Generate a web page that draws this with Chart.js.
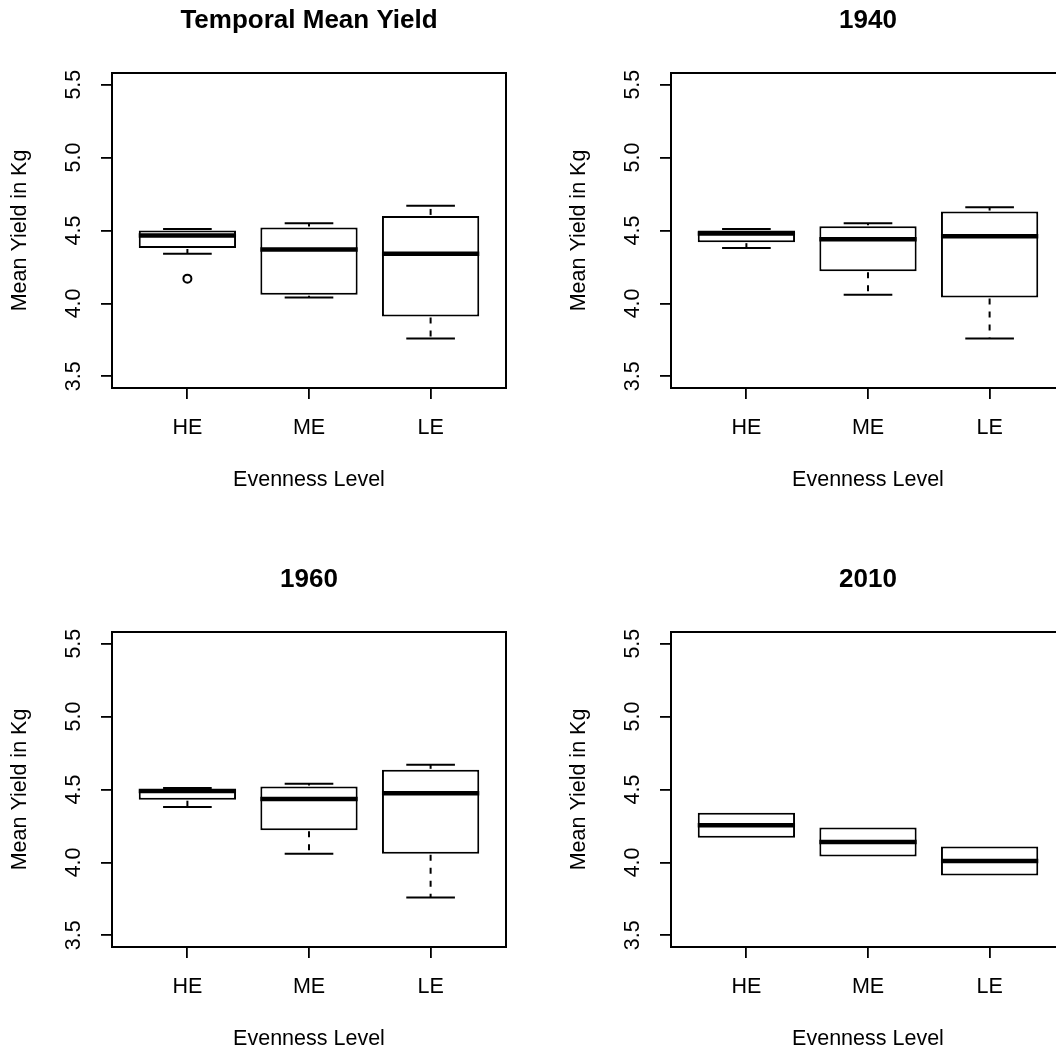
<!DOCTYPE html>
<html>
<head>
<meta charset="utf-8">
<title>Mean Yield by Evenness Level</title>
<script src="https://cdn.jsdelivr.net/npm/chart.js@4.4.0/dist/chart.umd.min.js"></script>
<style>
  html, body { margin: 0; padding: 0; background: #fff; }
  #page { position: relative; width: 1056px; height: 1054px; overflow: hidden; }
  #page canvas { position: absolute; }
</style>
</head>
<body>
<div id="page">
  <canvas id="panel0" width="528" height="559" style="left:0px;top:0px"></canvas>
  <canvas id="panel1" width="528" height="559" style="left:559px;top:0px"></canvas>
  <canvas id="panel2" width="528" height="559" style="left:0px;top:559px"></canvas>
  <canvas id="panel3" width="528" height="559" style="left:559px;top:559px"></canvas>
</div>
<script>
const groups = ['HE', 'ME', 'LE'];
const yTicks = [3.5, 4.0, 4.5, 5.0, 5.5];
const panelTitles = ['Temporal Mean Yield', '1940', '1960', '2010'];

// five-number summaries per evenness level (HE, ME, LE)
const temporalMin    = [4.34, 4.04, 3.76];
const temporalQ1     = [4.38, 4.06, 3.91];
const temporalMedian = [4.465, 4.37, 4.34];
const temporalQ3     = [4.50, 4.52, 4.60];
const temporalMax    = [4.51, 4.55, 4.67];
const temporalOut    = [[4.17], [], []];

const y1940Min    = [4.38, 4.06, 3.76];
const y1940Q1     = [4.42, 4.22, 4.04];
const y1940Median = [4.48, 4.44, 4.46];
const y1940Q3     = [4.50, 4.53, 4.63];
const y1940Max    = [4.51, 4.55, 4.66];

const y1960Min    = [4.38, 4.06, 3.76];
const y1960Q1     = [4.43, 4.22, 4.06];
const y1960Median = [4.49, 4.435, 4.475];
const y1960Q3     = [4.50, 4.52, 4.635];
const y1960Max    = [4.51, 4.54, 4.67];

const y2010Min    = [4.17, 4.04, 3.91];
const y2010Q1     = [4.17, 4.04, 3.91];
const y2010Median = [4.255, 4.14, 4.01];
const y2010Q3     = [4.34, 4.24, 4.11];
const y2010Max    = [4.34, 4.24, 4.11];

const panels = [
  {min: temporalMin, q1: temporalQ1, median: temporalMedian, q3: temporalQ3, max: temporalMax, out: temporalOut},
  {min: y1940Min, q1: y1940Q1, median: y1940Median, q3: y1940Q3, max: y1940Max, out: [[], [], []]},
  {min: y1960Min, q1: y1960Q1, median: y1960Median, q3: y1960Q3, max: y1960Max, out: [[], [], []]},
  {min: y2010Min, q1: y2010Q1, median: y2010Median, q3: y2010Q3, max: y2010Max, out: [[], [], []]}
];

const boxHalf = 0.4;   // half box width in x units

Chart.defaults.font.family = "'Liberation Sans', Arial, Helvetica, sans-serif";
Chart.defaults.color = '#000';

// whiskers, caps, medians and the frame round the plot region
const boxplotMarks = {
  id: 'boxplotMarks',
  afterDatasetsDraw(chart, args, opts) {
    const {ctx, chartArea, scales: {x, y}} = chart;
    const s = opts.stats;
    const seg = (x1, y1, x2, y2) => {
      ctx.beginPath(); ctx.moveTo(x1, y1); ctx.lineTo(x2, y2); ctx.stroke();
    };
    ctx.save();
    ctx.strokeStyle = '#000';
    ctx.lineCap = 'butt';
    s.median.forEach((m, i) => {
      const cx = x.getPixelForValue(i + 1);
      const half = x.getPixelForValue(i + 1 + boxHalf) - cx;
      const pMin = y.getPixelForValue(s.min[i]);
      const pQ1 = y.getPixelForValue(s.q1[i]);
      const pQ3 = y.getPixelForValue(s.q3[i]);
      const pMax = y.getPixelForValue(s.max[i]);
      ctx.lineWidth = 2;
      // upper whisker + cap
      if (pQ3 - pMax > 1) {
        ctx.setLineDash([6, 7]);
        seg(cx, pQ3 - 1, cx, pMax);
        ctx.setLineDash([]);
        seg(cx - half / 2, pMax, cx + half / 2, pMax);
      }
      // lower whisker + cap
      if (pMin - pQ1 > 1) {
        ctx.setLineDash([6, 7]);
        seg(cx, pQ1 + 1, cx, pMin);
        ctx.setLineDash([]);
        seg(cx - half / 2, pMin, cx + half / 2, pMin);
      }
      ctx.lineWidth = 4.5;
      const pMed = y.getPixelForValue(m);
      seg(cx - half, pMed, cx + half, pMed);
    });
    ctx.lineWidth = 2;
    ctx.strokeRect(chartArea.left, chartArea.top, chartArea.right - chartArea.left, chartArea.bottom - chartArea.top);
    ctx.restore();
  }
};

const tickGrid = {drawOnChartArea: false, drawTicks: true, tickLength: 11, color: '#000', lineWidth: 1.8, offset: false};

panels.forEach((p, k) => {
  const outliers = [];
  p.out.forEach((vals, i) => vals.forEach(v => outliers.push({x: i + 1, y: v})));

  new Chart(document.getElementById('panel' + k).getContext('2d'), {
    type: 'bar',
    data: {
      datasets: [{
        type: 'bar',
        data: groups.map((g, i) => ({x: i + 1, y: [p.q1[i], p.q3[i]]})),
        backgroundColor: '#fff',
        borderColor: '#000',
        borderWidth: 2,
        borderSkipped: false,
        categoryPercentage: 1,
        barPercentage: 2 * boxHalf
      }, {
        type: 'scatter',
        data: outliers,
        pointStyle: 'circle',
        pointRadius: 4,
        pointBorderWidth: 2,
        pointBackgroundColor: '#fff',
        pointBorderColor: '#000'
      }]
    },
    options: {
      responsive: false,
      animation: false,
      devicePixelRatio: 1,
      layout: {padding: {left: 0, right: 22, top: 0, bottom: 0}},
      scales: {
        x: {
          type: 'linear',
          min: 0.38,
          max: 3.62,
          offset: false,
          afterBuildTicks: s => { s.ticks = groups.map((g, i) => ({value: i + 1})); },
          afterFit: s => { s.height = 171; },
          grid: tickGrid,
          border: {display: false},
          ticks: {
            callback: v => groups[Math.round(v) - 1],
            autoSkip: false,
            maxRotation: 0,
            padding: 16.6,
            font: {size: 21.5}
          },
          title: {display: true, text: 'Evenness Level', font: {size: 21.5}, padding: {top: 0, bottom: 65.6}}
        },
        y: {
          min: 3.42,
          max: 5.58,
          beginAtZero: false,
          afterBuildTicks: s => { s.ticks = yTicks.map(v => ({value: v})); },
          afterFit: s => { s.width = 112; },
          grid: tickGrid,
          border: {display: false},
          ticks: {
            callback: v => v.toFixed(1),
            autoSkip: false,
            minRotation: 90,
            maxRotation: 90,
            crossAlign: 'center',
            padding: 11.6,
            font: {size: 21.5}
          },
          title: {display: true, text: 'Mean Yield in Kg', font: {size: 21.5}, padding: {top: 7.1, bottom: 0}}
        }
      },
      plugins: {
        legend: {display: false},
        tooltip: {enabled: false},
        title: {
          display: true,
          text: panelTitles[k],
          fullSize: false,
          font: {size: 26, weight: 'bold'},
          padding: {top: 5.4, bottom: 36.4}
        },
        boxplotMarks: {stats: p}
      }
    },
    plugins: [boxplotMarks]
  });
});
</script>
</body>
</html>
